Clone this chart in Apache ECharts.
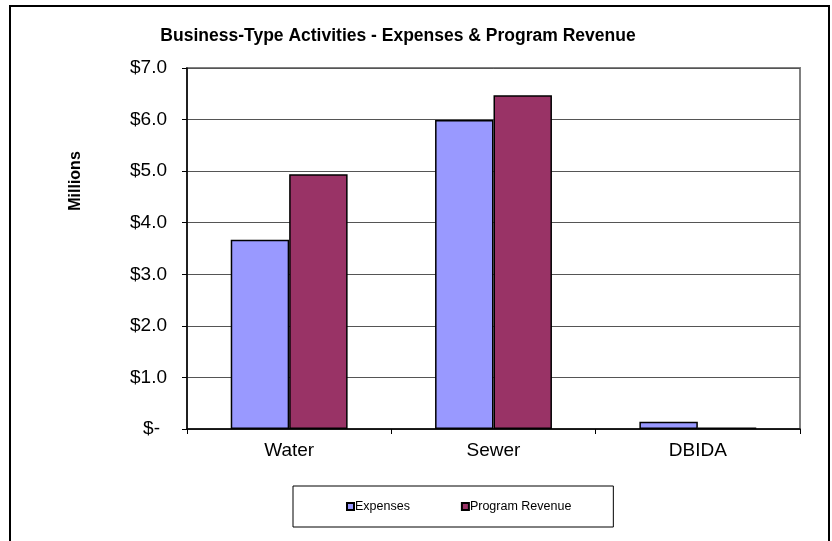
<!DOCTYPE html>
<html>
<head>
<meta charset="utf-8">
<script src="https://cdn.jsdelivr.net/npm/echarts@6/dist/echarts.min.js"></script>
<style>
  html, body { margin: 0; padding: 0; background: #fff; }
  #chart { width: 832px; height: 541px; }
</style>
</head>
<body>
<div id="chart"></div>
<script>
// chart data (millions of dollars)
const categories = ['Water', 'Sewer', 'DBIDA'];
const expenses = [3.67, 5.99, 0.14];
const programRevenue = [4.94, 6.47, 0.03];
const yTicks = [0, 1, 2, 3, 4, 5, 6, 7];

const chart = echarts.init(document.getElementById('chart'));

const font = 'Arial, "Liberation Sans", sans-serif';

const option = {
  backgroundColor: '#fff',
  animation: false,
  title: {
    text: 'Business-Type Activities - Expenses & Program Revenue',
    left: 393,
    textAlign: 'center',
    top: 22,
    textStyle: {
      fontFamily: font,
      fontSize: 17.5,
      fontWeight: 'bold',
      color: '#000'
    }
  },
  legend: {
    data: ['Expenses', 'Program Revenue'],
    left: 293,
    top: 486,
    padding: [14, 42, 14, 53],
    borderColor: '#000',
    borderWidth: 1,
    itemWidth: 7,
    itemHeight: 7,
    itemGap: 51,
    icon: 'rect',
    textStyle: {
      fontFamily: font,
      fontSize: 12.5,
      color: '#000',
      padding: [0, 0, 0, -4]
    }
  },
  grid: {
    left: 187,
    top: 68,
    right: 32,
    bottom: 112,
    show: true,
    borderColor: '#808080',
    borderWidth: 2,
    backgroundColor: '#fff'
  },
  xAxis: {
    type: 'category',
    data: categories,
    boundaryGap: true,
    axisLine: { lineStyle: { color: '#000', width: 1.5 } },
    axisTick: { show: true, length: 5, lineStyle: { color: '#000' } },
    axisLabel: {
      fontFamily: font,
      fontSize: 19,
      color: '#000',
      margin: 12
    }
  },
  yAxis: {
    type: 'value',
    min: yTicks[0],
    max: yTicks[yTicks.length - 1],
    interval: 1,
    axisLine: { show: true, lineStyle: { color: '#000', width: 1.5 } },
    axisTick: { show: true, length: 5, lineStyle: { color: '#000' } },
    splitLine: { lineStyle: { color: '#555', width: 1 } },
    axisLabel: {
      fontFamily: font,
      fontSize: 19,
      color: '#000',
      margin: 20,
      formatter: v => v === 0 ? '{z|$-}' : '$' + v.toFixed(1),
      rich: {
        z: { fontFamily: font, fontSize: 19, color: '#000', padding: [0, 7, 0, 0] }
      }
    }
  },
  series: [
    {
      name: 'Expenses',
      type: 'bar',
      data: expenses,
      barWidth: '28.6%',
      barGap: '0%',
      itemStyle: { color: '#9999FF', borderColor: '#000', borderWidth: 1.5 }
    },
    {
      name: 'Program Revenue',
      type: 'bar',
      data: programRevenue,
      barWidth: '28.6%',
      itemStyle: { color: '#993366', borderColor: '#000', borderWidth: 1.5 }
    }
  ],
  graphic: [
    {
      // outer chart frame
      type: 'rect',
      shape: { x: 10, y: 6, width: 819, height: 545 },
      style: { fill: 'none', stroke: '#000', lineWidth: 2 },
      silent: true
    },
    {
      type: 'text',
      x: 76,
      y: 181,
      rotation: Math.PI / 2,
      style: {
        text: 'Millions',
        fontFamily: font,
        fontSize: 16,
        fontWeight: 'bold',
        fill: '#000',
        align: 'center',
        verticalAlign: 'middle'
      }
    }
  ]
};

chart.setOption(option);
window.addEventListener('resize', () => chart.resize());
</script>
</body>
</html>
